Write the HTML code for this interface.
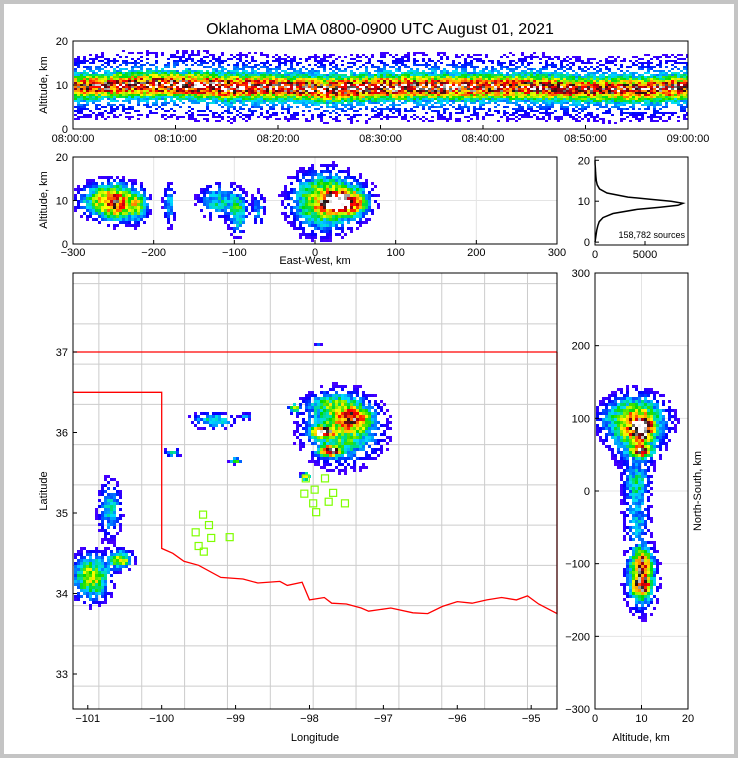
<!DOCTYPE html>
<html><head><meta charset="utf-8"><style>
html,body{margin:0;padding:0;background:#c4c4c4;width:738px;height:758px;overflow:hidden}
svg{position:absolute;left:0;top:0}
text{font-family:"Liberation Sans","DejaVu Sans",sans-serif;fill:#000}
</style></head><body>
<svg id="fig" width="738" height="758">
<rect x="4" y="4" width="730" height="750" fill="#fff"/>
<text x="380" y="34" font-size="16" text-anchor="middle">Oklahoma LMA 0800-0900 UTC August 01, 2021</text>
<g id="top"></g>
<g id="mid"></g>
<g id="hist"></g>
<g id="map"></g>
<g id="ns"></g>
</svg>
<script>
// ---------- DATA ----------
const timeTicks = ["08:00:00","08:10:00","08:20:00","08:30:00","08:40:00","08:50:00","09:00:00"];
const coreAltByTime = [9.5,10,10,9.5,9.5,9,9.5,9.5,9.5,9.5,9,9,9.5];
const intensityByTime = [0.7,0.75,0.8,0.85,0.75,0.8,0.8,0.8,0.75,0.75,0.7,0.75,0.75];
const histAlt = [0,1,2,3,4,5,6,7,8,8.5,9,9.5,10,10.5,11,12,13,14,15,16,17,18,19,20];
const histCount = [0,60,120,180,280,420,800,1800,4200,6500,8300,8800,7600,5500,3300,1200,450,220,130,90,60,35,15,0];
const ewClusters = [[-265,10,18,2.5,0.4],[-245,9.5,12,2.5,0.55],[-220,9,9,2.5,0.4],[-180,9,5,3,0.25],[-120,10,15,2.5,0.28],[-95,7,7,3,0.32],[-70,8,5,2.5,0.22],[20,10,28,3.5,0.4],[25,9.5,10,1.3,0.85],[45,9.5,12,1.8,0.55],[5,9.5,22,5,0.2]];
const mapClusters = [[-97.55,36.05,0.32,0.26,0.42],[-97.82,36.0,0.09,0.04,0.85],[-97.72,35.77,0.09,0.04,0.85],[-97.4,36.18,0.14,0.09,0.45],[-97.7,36.35,0.22,0.09,0.22],[-99.3,36.15,0.18,0.06,0.32],[-98.85,36.2,0.05,0.025,0.22],[-99.0,35.65,0.05,0.025,0.38],[-99.85,35.75,0.07,0.035,0.27],[-100.7,35.05,0.1,0.22,0.27],[-100.95,34.2,0.16,0.18,0.48],[-100.55,34.42,0.1,0.07,0.5],[-98.05,35.45,0.04,0.03,0.6],[-97.88,37.08,0.025,0.025,0.25],[-98.2,36.3,0.05,0.035,0.4]];
const nsClusters = [[9,85,3.5,28,0.4],[10,85,1.3,9,0.85],[10,55,1.3,5,0.85],[8,100,5,18,0.25],[9,10,1.8,18,0.28],[9,-40,1.8,22,0.22],[10,-120,2,28,0.4],[10,-100,1.3,12,0.5],[10,-130,1.3,9,0.55]];
const stationLon = [-99.44,-99.36,-99.54,-99.33,-99.50,-99.43,-99.08,-98.05,-97.79,-97.93,-98.07,-97.68,-97.95,-97.74,-97.52,-97.91];
const stationLat = [34.98,34.85,34.76,34.69,34.59,34.52,34.70,35.43,35.43,35.29,35.24,35.25,35.12,35.14,35.12,35.01];
const okBorderLon = [-101.2,-100.0,-100.0,-99.85,-99.7,-99.5,-99.2,-98.9,-98.7,-98.4,-98.3,-98.1,-98.0,-97.8,-97.7,-97.5,-97.3,-97.2,-96.9,-96.6,-96.4,-96.2,-96.0,-95.8,-95.6,-95.4,-95.2,-95.05,-94.9,-94.65,-94.65];
const okBorderLat = [36.5,36.5,34.56,34.5,34.4,34.35,34.2,34.18,34.13,34.15,34.1,34.14,33.92,33.95,33.88,33.87,33.82,33.78,33.82,33.76,33.75,33.84,33.9,33.88,33.92,33.95,33.92,33.97,33.87,33.75,37];
const lonTicks = [-101,-100,-99,-98,-97,-96,-95];
const latTicks = [33,34,35,36,37];

// ---------- HELPERS ----------
const NS="http://www.w3.org/2000/svg";
function mk(par,tag,attrs){const e=document.createElementNS(NS,tag);for(const k in attrs)e.setAttribute(k,attrs[k]);par.appendChild(e);return e;}
const stops=[[0,[128,0,255]],[0.12,[0,0,255]],[0.24,[0,220,255]],[0.36,[0,220,0]],[0.5,[255,255,0]],[0.6,[255,150,0]],[0.7,[255,0,0]],[0.8,[150,0,20]],[0.88,[20,20,20]],[0.94,[140,140,140]],[1,[255,255,255]]];
function cmap(v){v=Math.max(0,Math.min(1,v));for(let i=1;i<stops.length;i++){if(v<=stops[i][0]){const a=stops[i-1],b=stops[i];const t=(v-a[0])/(b[0]-a[0]);const c=a[1].map((x,j)=>Math.round(x+(b[1][j]-x)*t));return `rgb(${c})`;}}return "#fff";}
function tex(i,j){let h=(i*374761393+j*668265263)>>>0;h=((h^(h>>>13))*1274126177)>>>0;return (h%1000)/1000;}
function density(cl,u,v){let s=0;for(const c of cl){const dx=(u-c[0])/c[2],dy=(v-c[1])/c[3];s+=c[4]*Math.exp(-0.5*(dx*dx+dy*dy));}return s;}
function frame(g,x,y,w,h,name){const r=mk(g,'rect',{x:x,y:y,width:w,height:h,fill:'none',stroke:'#000','stroke-width':1});}
function label(g,x,y,t,anchor,size,name,rot){const e=mk(g,'text',{x:x,y:y,'font-size':size||11,'text-anchor':anchor||'middle'});if(rot)e.setAttribute('transform',`rotate(${rot} ${x} ${y})`);e.textContent=t;return e;}
function tick(g,x1,y1,x2,y2){const l=mk(g,'line',{x1:x1,y1:y1,x2:x2,y2:y2,stroke:'#000'});}
function heat(g,cl,x0,x1,y0,y1,cell,toData,thr,noise){
  for(let px=x0,i=0;px<x1;px+=cell,i++)for(let py=y0,j=0;py<y1;py+=cell,j++){
    const d=toData(px+cell/2,py+cell/2);let v=density(cl,d[0],d[1]);const n=tex(i+px,j+py*3);v*=(1-noise+2*noise*n);
    if(v<thr||(v<thr*3&&n<0.45))continue;
    const r=mk(g,'rect',{x:px,y:py,width:Math.min(cell,x1-px),height:Math.min(cell,y1-py),fill:cmap(v)});
    
    
  }
}

// ---------- TOP ----------
(function(){const g=document.getElementById('top');const X0=73,X1=688,Y0=41,Y1=129;
const tx=t=>X0+t/60*(X1-X0), ay=a=>Y1-a/20*(Y1-Y0);
for(let px=X0+1,i=0;px<X1;px+=3,i++){const t=(px-X0)/(X1-X0)*60;const k=Math.min(11,Math.floor(t/5));const f=t/5-k;
 const core=coreAltByTime[k]+(coreAltByTime[k+1]-coreAltByTime[k])*f, amp=intensityByTime[k]+(intensityByTime[k+1]-intensityByTime[k])*f;
 for(let py=Y0+1,j=0;py<Y1;py+=2,j++){const a=(Y1-py-1)/(Y1-Y0)*20;const dz=(a-core);let v=amp*(0.85*Math.exp(-0.5*(dz/1.5)**2)+0.3*Math.exp(-0.5*(dz/4.5)**2));const n=tex(i*7,j*13);v*=0.65+0.6*n;
  if(v<0.06||(v<0.18&&n<0.55))continue;
  const r=mk(g,'rect',{x:px,y:py,width:Math.min(3,X1-px),height:2,fill:cmap(v)});
  
  }}
frame(g,X0,Y0,X1-X0,Y1-Y0,'time-height-frame');
timeTicks.forEach((s,i)=>{const x=tx(i*10);tick(g,x,Y1,x,Y1-4);label(g,x,Y1+13,s,'middle',11,'time-tick-label');});
[0,10,20].forEach(a=>{tick(g,X0,ay(a),X0+4,ay(a));label(g,X0-5,ay(a)+4,String(a),'end',11,'altitude-tick-label');});
label(g,47,85,'Altitude, km','middle',11,'y-axis-title',-90);})();

// ---------- MID ----------
(function(){const g=document.getElementById('mid');const X0=73,X1=557,Y0=157,Y1=244;
const xs=x=>X0+(x+300)/600*(X1-X0), ay=a=>Y1-a/20*(Y1-Y0);
[0,10].forEach(a=>{const l=mk(g,'line',{x1:X0,x2:X1,y1:ay(a),y2:ay(a),stroke:'#e4e4e4'});});
[-200,-100,0,100,200].forEach(x=>{const l=mk(g,'line',{x1:xs(x),x2:xs(x),y1:Y0,y2:Y1,stroke:'#e4e4e4'});});
heat(g,ewClusters,X0+1,X1,Y0+1,Y1,3,(px,py)=>[(px-X0)/(X1-X0)*600-300,(Y1-py)/(Y1-Y0)*20],0.05,0.3);
frame(g,X0,Y0,X1-X0,Y1-Y0,'east-west-frame');
[-300,-200,-100,0,100,200,300].forEach(x=>{tick(g,xs(x),Y1,xs(x),Y1-4);label(g,xs(x),Y1+12,String(x).replace('-','−'),'middle',11,'east-west-tick-label');});
[0,10,20].forEach(a=>{tick(g,X0,ay(a),X0+4,ay(a));label(g,X0-5,ay(a)+4,String(a),'end',11,'altitude-tick-label');});
label(g,47,200,'Altitude, km','middle',11,'y-axis-title',-90);
label(g,315,264,'East-West, km','middle',11,'x-axis-title');})();

// ---------- HIST ----------
(function(){const g=document.getElementById('hist');const X0=595,X1=688,Y0=157,Y1=245;
const cx=c=>X0+c/9300*(X1-X0), ay=a=>Y1-(a+0.7)/21.5*(Y1-Y0);
let d='';histAlt.forEach((a,i)=>{d+=(i?'L':'M')+cx(histCount[i]).toFixed(1)+','+ay(a).toFixed(1);});
const p=mk(g,'path',{d:d,fill:'none',stroke:'#000','stroke-width':1.5});
frame(g,X0,Y0,X1-X0,Y1-Y0,'histogram-frame');
[0,5000].forEach(c=>{tick(g,cx(c),Y1,cx(c),Y1-4);label(g,cx(c),Y1+13,String(c),'middle',11,'count-tick-label');});
[0,10,20].forEach(a=>{tick(g,X0,ay(a),X0+4,ay(a));label(g,X0-5,ay(a)+4,String(a),'end',11,'altitude-tick-label');});
label(g,685,238,'158,782 sources','end',9,'source-count-label');})();

// ---------- MAP ----------
(function(){const g=document.getElementById('map');const X0=73,X1=557,Y0=273,Y1=709;
const lx=l=>73+(l+101.2)*73.9, ly=a=>352+(37-a)*80.5;
const cg=mk(g,'g',{stroke:'#cccccc','stroke-width':1,fill:'none'});
for(let lo=-100.85;lo<-94.6;lo+=0.58){mk(cg,'line',{x1:lx(lo),x2:lx(lo),y1:Y0,y2:Y1});}
for(let la=32.85;la<38;la+=0.5){mk(cg,'line',{x1:X0,x2:X1,y1:ly(la),y2:ly(la)});}
heat(g,mapClusters,X0+1,X1,Y0+1,Y1,3,(px,py)=>[-101.2+(px-73)/73.9,37-(py-352)/80.5],0.05,0.3);
let d='';okBorderLon.forEach((l,i)=>{d+=(i?'L':'M')+lx(l).toFixed(1)+','+ly(okBorderLat[i]).toFixed(1);});
const b=mk(g,'path',{d:d,fill:'none',stroke:'#f00','stroke-width':1.3});
const n=mk(g,'line',{x1:X0,x2:X1,y1:ly(37),y2:ly(37),stroke:'#f00','stroke-width':1.3});
stationLon.forEach((l,i)=>{const r=mk(g,'rect',{x:lx(l)-3.5,y:ly(stationLat[i])-3.5,width:7,height:7,fill:'none',stroke:'#7fff00','stroke-width':1.2});});
frame(g,X0,Y0,X1-X0,Y1-Y0,'map-frame');
lonTicks.forEach(l=>{tick(g,lx(l),Y1,lx(l),Y1-4);label(g,lx(l),Y1+13,String(l).replace('-','−'),'middle',11,'longitude-tick-label');});
latTicks.forEach(a=>{tick(g,X0,ly(a),X0+4,ly(a));label(g,X0-5,ly(a)+4,String(a),'end',11,'latitude-tick-label');});
label(g,315,741,'Longitude','middle',11,'x-axis-title');
label(g,47,491,'Latitude','middle',11,'y-axis-title',-90);})();

// ---------- NS ----------
(function(){const g=document.getElementById('ns');const X0=595,X1=688,Y0=273,Y1=709;
const ax=a=>X0+a/20*(X1-X0), ny=v=>491-v*0.7267;
[-200,-100,0,100,200].forEach(v=>{const l=mk(g,'line',{x1:X0,x2:X1,y1:ny(v),y2:ny(v),stroke:'#e4e4e4'});});
const gl=mk(g,'line',{x1:ax(10),x2:ax(10),y1:Y0,y2:Y1,stroke:'#e4e4e4'});
heat(g,nsClusters,X0+1,X1,Y0+1,Y1,3,(px,py)=>[(px-X0)/(X1-X0)*20,(491-py)/0.7267],0.05,0.3);
frame(g,X0,Y0,X1-X0,Y1-Y0,'north-south-frame');
[0,10,20].forEach(a=>{tick(g,ax(a),Y1,ax(a),Y1-4);label(g,ax(a),Y1+13,String(a),'middle',11,'altitude-tick-label');});
[-300,-200,-100,0,100,200,300].forEach(v=>{tick(g,X0,ny(v),X0+4,ny(v));label(g,X0-5,ny(v)+4,String(v).replace('-','−'),'end',11,'north-south-tick-label');});
label(g,641,741,'Altitude, km','middle',11,'x-axis-title');
label(g,701,491,'North-South, km','middle',11,'y-axis-title',-90);})();
</script>
</body></html>
